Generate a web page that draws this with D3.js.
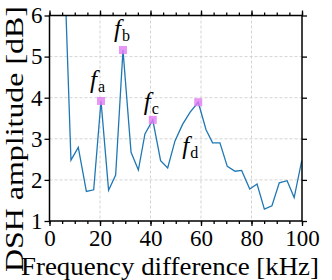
<!DOCTYPE html>
<html>
<head>
<meta charset="utf-8">
<script src="https://cdn.jsdelivr.net/npm/d3@7"></script>
<style>
  body { margin: 0; background: #fff; }
</style>
</head>
<body>
<svg id="chart" width="332" height="280"></svg>
<script>
// data
const freq = [5.9, 8.5, 11.4, 14.6, 17.5, 20.4, 23.4, 26.2, 29.1, 32.3, 35.2, 37.8, 40.9, 44.0, 46.8,
  49.7, 52.7, 55.7, 58.9, 62.0, 64.6, 67.5, 70.4, 73.5, 76.1, 79.3, 82.2, 85.1, 88.1, 91.0, 94.1, 96.9, 99.9];
const amp = [7.2, 2.48, 2.79, 1.72, 1.76, 3.92, 1.75, 2.12, 5.16, 2.67, 2.24, 3.12, 3.46, 2.47, 2.29,
  2.95, 3.35, 3.65, 3.89, 3.22, 2.90, 2.90, 2.33, 2.21, 2.23, 1.78, 1.90, 1.29, 1.37, 1.93, 1.98, 1.57, 2.47];
const peaks = [
  { name: "a", f: 20.4, v: 3.92, dx: -11, dy: -13 },
  { name: "b", f: 29.1, v: 5.16, dx: -9, dy: -13 },
  { name: "c", f: 40.9, v: 3.46, dx: -9, dy: -10 },
  { name: "d", f: 58.9, v: 3.89, dx: -16, dy: 52 }
];
const xTicks = [0, 20, 40, 60, 80, 100];
const yTicks = [1, 2, 3, 4, 5, 6];

const serif = "Liberation Serif";

const svg = d3.select("#chart");
const margin = { top: 15.5, left: 49.5, right: 30, bottom: 59 };
const width = 332, height = 280;
const iw = width - margin.left - margin.right;
const ih = height - margin.top - margin.bottom;

const g = svg.append("g").attr("transform", `translate(${margin.left},${margin.top})`);

const x = d3.scaleLinear().domain([0, 100]).range([0, iw]);
const y = d3.scaleLinear().domain([1, 6]).range([ih, 0]);

// grid
g.append("g").selectAll("line").data(xTicks.slice(1, -1)).join("line")
  .attr("x1", d => x(d)).attr("x2", d => x(d)).attr("y1", 0).attr("y2", ih)
  .attr("stroke", "#c8c8c8").attr("stroke-width", 0.8).attr("stroke-dasharray", "3 2");
g.append("g").selectAll("line").data(yTicks.slice(1, -1)).join("line")
  .attr("y1", d => y(d)).attr("y2", d => y(d)).attr("x1", 0).attr("x2", iw)
  .attr("stroke", "#c8c8c8").attr("stroke-width", 0.8).attr("stroke-dasharray", "3 2");

// line, clipped to plot area
svg.append("clipPath").attr("id", "clip").append("rect").attr("width", iw).attr("height", ih);
const line = d3.line().x((d, i) => x(freq[i])).y(d => y(d));
g.append("path").datum(amp)
  .attr("clip-path", "url(#clip)")
  .attr("fill", "none").attr("stroke", "#1f77b4").attr("stroke-width", 1.3)
  .attr("d", line);

// peak markers
g.selectAll("rect.pk").data(peaks).join("rect")
  .attr("class", "pk")
  .attr("x", d => x(d.f) - 4).attr("y", d => y(d.v) - 4)
  .attr("width", 8).attr("height", 8)
  .attr("fill", "#e27cf2").attr("opacity", 0.8);

const lab = g.selectAll("text.pk").data(peaks).join("text")
  .attr("class", "pk")
  .attr("font-family", serif)
  .attr("x", d => x(d.f) + d.dx).attr("y", d => y(d.v) + d.dy)
  .attr("font-size", 25);
lab.append("tspan").attr("font-style", "italic").text("f");
lab.append("tspan").attr("font-size", 16).attr("dy", 4).attr("dx", 1).text(d => d.name);

// axes
const xMinor = d3.range(0, 101, 5);
const axisStyle = sel => {
  sel.select(".domain").remove();
  sel.selectAll("line").attr("stroke", "#000").attr("stroke-width", 1.3);
};

g.append("g").attr("transform", `translate(0,${ih})`)
  .call(d3.axisBottom(x).tickValues(xMinor).tickSize(3).tickFormat(""))
  .call(axisStyle);
g.append("g").attr("transform", `translate(0,${ih})`)
  .call(d3.axisBottom(x).tickValues(xTicks).tickSize(5).tickPadding(4).tickFormat(d3.format("d")))
  .call(axisStyle)
  .selectAll("text").attr("font-family", serif).attr("font-size", 23).attr("fill", "#000");
g.append("g")
  .call(d3.axisTop(x).tickValues(xMinor).tickSize(3).tickFormat(""))
  .call(axisStyle);
g.append("g")
  .call(d3.axisTop(x).tickValues(xTicks).tickSize(5).tickFormat(""))
  .call(axisStyle);
g.append("g")
  .call(d3.axisLeft(y).tickValues(yTicks).tickSize(5).tickPadding(2).tickFormat(d3.format("d")))
  .call(axisStyle)
  .selectAll("text").attr("font-family", serif).attr("font-size", 23).attr("fill", "#000");
g.append("g").attr("transform", `translate(${iw},0)`)
  .call(d3.axisRight(y).tickValues(yTicks).tickSize(5).tickFormat(""))
  .call(axisStyle);

g.append("rect").attr("width", iw).attr("height", ih)
  .attr("fill", "none").attr("stroke", "#000").attr("stroke-width", 1.5);

// axis titles
svg.append("text")
  .attr("font-family", serif)
  .attr("x", 170).attr("y", 275)
  .attr("text-anchor", "middle").attr("font-size", 26)
  .attr("textLength", 298).attr("lengthAdjust", "spacingAndGlyphs")
  .text("Frequency difference [kHz]");
svg.append("text")
  .attr("font-family", serif)
  .attr("transform", `translate(23,139) rotate(-90)`)
  .attr("text-anchor", "middle").attr("font-size", 25)
  .attr("textLength", 266).attr("lengthAdjust", "spacingAndGlyphs")
  .text("DSH amplitude [dB]");
</script>
</body>
</html>
